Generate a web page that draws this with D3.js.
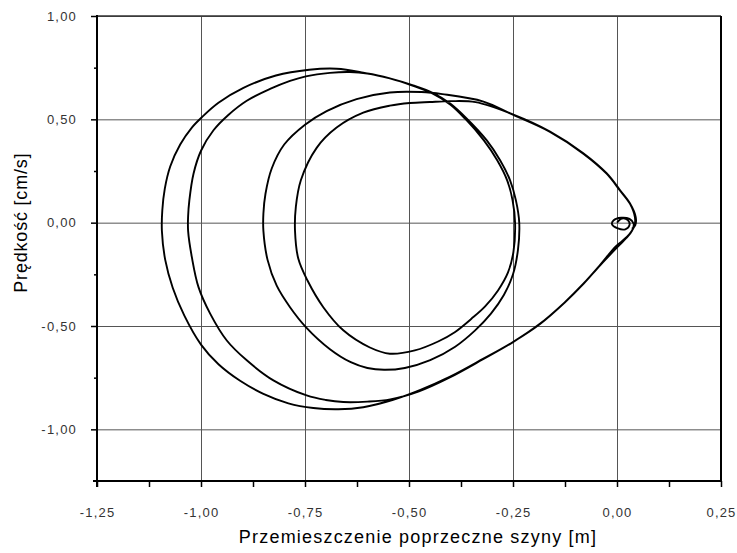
<!DOCTYPE html>
<html>
<head>
<meta charset="utf-8">
<script src="https://cdn.jsdelivr.net/npm/d3@7"></script>
<style>
  body { margin: 0; background: #fff; }
  svg { display: block; font-family: Arial, "Liberation Sans", sans-serif; }
</style>
</head>
<body>
<div id="chart"></div>
<script>
// axis ticks
var xTicks = [-1.25, -1.0, -0.75, -0.5, -0.25, 0.0, 0.25]
var xMinorTicks = [-1.125, -0.875, -0.625, -0.375, -0.125, 0.125]
var yTicks = [-1.0, -0.5, 0.0, 0.5, 1.0]
var yMinorTicks = [-0.75, -0.25, 0.25, 0.75]

// trajectory pieces [przemieszczenie, predkosc], in order
var startLoop = [
  [0.000, 0.000], [0.012, 0.020], [0.026, 0.012], [0.030, -0.012], [0.020, -0.032],
  [0.002, -0.028], [-0.012, -0.008], [-0.008, 0.012], [0.010, 0.024], [0.030, 0.018],
  [0.040, -0.005], [0.036, -0.040], [0.022, -0.075], [0.005, -0.110]
]
var outerSwing1 = [
  [-0.040, -0.205], [-0.080, -0.295], [-0.125, -0.385], [-0.185, -0.490], [-0.249, -0.576],
  [-0.321, -0.658], [-0.401, -0.745], [-0.474, -0.810], [-0.540, -0.858], [-0.610, -0.893],
  [-0.670, -0.903], [-0.730, -0.897], [-0.790, -0.874], [-0.850, -0.828], [-0.906, -0.765],
  [-0.958, -0.685], [-1.000, -0.590], [-1.040, -0.450], [-1.068, -0.315], [-1.086, -0.180],
  [-1.094, -0.040], [-1.093, 0.060], [-1.087, 0.165], [-1.074, 0.272], [-1.050, 0.378],
  [-1.022, 0.460], [-0.998, 0.510], [-0.958, 0.580], [-0.898, 0.652], [-0.820, 0.712],
  [-0.740, 0.740], [-0.674, 0.745], [-0.610, 0.726], [-0.546, 0.698], [-0.490, 0.664],
  [-0.442, 0.627]
]
var innerSwing1 = [
  [-0.401, 0.576], [-0.361, 0.503], [-0.313, 0.398], [-0.281, 0.302], [-0.257, 0.205],
  [-0.243, 0.108], [-0.235, 0.000], [-0.238, -0.130], [-0.250, -0.250], [-0.272, -0.350],
  [-0.303, -0.440], [-0.341, -0.521], [-0.389, -0.600], [-0.449, -0.665], [-0.510, -0.703],
  [-0.560, -0.712], [-0.600, -0.703], [-0.640, -0.675], [-0.690, -0.612], [-0.748, -0.505],
  [-0.786, -0.409], [-0.818, -0.305], [-0.840, -0.180], [-0.850, -0.040], [-0.850, 0.044],
  [-0.845, 0.140], [-0.830, 0.262], [-0.800, 0.378], [-0.750, 0.474], [-0.698, 0.540],
  [-0.626, 0.598], [-0.546, 0.630], [-0.470, 0.632], [-0.420, 0.622], [-0.321, 0.586],
  [-0.249, 0.521], [-0.161, 0.439], [-0.081, 0.334], [-0.025, 0.237], [0.007, 0.156],
  [0.031, 0.092], [0.043, 0.027], [0.042, -0.015], [0.030, -0.055], [0.012, -0.090],
  [-0.003, -0.115]
]
var outerSwing2 = [
  [-0.042, -0.208], [-0.082, -0.298], [-0.127, -0.388], [-0.187, -0.492], [-0.251, -0.579],
  [-0.323, -0.662], [-0.403, -0.750], [-0.476, -0.816], [-0.545, -0.855], [-0.600, -0.866],
  [-0.658, -0.868], [-0.700, -0.858], [-0.746, -0.836], [-0.826, -0.763], [-0.890, -0.666],
  [-0.938, -0.570], [-0.978, -0.440], [-1.006, -0.312], [-1.022, -0.167], [-1.031, -0.040],
  [-1.031, 0.030], [-1.028, 0.108], [-1.018, 0.237], [-1.000, 0.348], [-0.970, 0.447],
  [-0.935, 0.520], [-0.890, 0.590], [-0.834, 0.647], [-0.786, 0.686], [-0.748, 0.708],
  [-0.690, 0.725], [-0.642, 0.729], [-0.600, 0.722], [-0.546, 0.698], [-0.490, 0.662],
  [-0.445, 0.627]
]
var innerSwing2 = [
  [-0.401, 0.572], [-0.365, 0.503], [-0.320, 0.398], [-0.288, 0.302], [-0.264, 0.205],
  [-0.251, 0.108], [-0.245, 0.000], [-0.249, -0.142], [-0.262, -0.241], [-0.286, -0.328],
  [-0.317, -0.405], [-0.350, -0.465], [-0.390, -0.530], [-0.430, -0.575], [-0.486, -0.618],
  [-0.546, -0.634], [-0.594, -0.604], [-0.658, -0.521], [-0.706, -0.409], [-0.744, -0.280],
  [-0.766, -0.175], [-0.774, -0.040], [-0.772, 0.076], [-0.760, 0.205], [-0.722, 0.362],
  [-0.674, 0.460], [-0.610, 0.532], [-0.546, 0.566], [-0.498, 0.579], [-0.450, 0.584],
  [-0.400, 0.588], [-0.340, 0.583], [-0.249, 0.523], [-0.161, 0.441], [-0.081, 0.336],
  [-0.025, 0.239], [0.007, 0.158], [0.031, 0.094], [0.045, 0.027], [0.044, -0.012],
  [0.036, -0.030]
]

var trajectory = [].concat(startLoop, outerSwing1, innerSwing1, outerSwing2, innerSwing2)

var W = 737, H = 553
var margin = {top: 16, right: 16, bottom: 72, left: 97}

var svg = d3.select('#chart').append('svg')
  .attr('width', W)
  .attr('height', H)

var x = d3.scaleLinear()
  .domain([-1.25, 0.25])
  .range([margin.left, W - margin.right])

var y = d3.scaleLinear()
  .domain([-1.25, 1.0])
  .range([H - margin.bottom, margin.top])

var loc = d3.formatLocale({decimal: ',', thousands: ' ', grouping: [3], currency: ['', ''], minus: '-'})
var fmt = loc.format('.2f')

// grid
svg.append('g')
  .attr('transform', `translate(0,${y(-1.25)})`)
  .call(d3.axisBottom(x).tickValues(xTicks.slice(1, -1)).tickSize(-(y(-1.25) - y(1.0))).tickFormat(''))
  .call(g => g.select('.domain').remove())
  .call(g => g.selectAll('line').attr('stroke', '#555').attr('stroke-width', 1))

svg.append('g')
  .attr('transform', `translate(${x(-1.25)},0)`)
  .call(d3.axisLeft(y).tickValues(yTicks).tickSize(-(x(0.25) - x(-1.25))).tickFormat(''))
  .call(g => g.select('.domain').remove())
  .call(g => g.selectAll('line').attr('stroke', '#555').attr('stroke-width', 1))

// top and right frame
svg.append('line')
  .attr('x1', x(-1.25)).attr('x2', x(0.25))
  .attr('y1', y(1.0)).attr('y2', y(1.0))
  .attr('stroke', '#333').attr('stroke-width', 1.5)
svg.append('line')
  .attr('x1', x(0.25)).attr('x2', x(0.25))
  .attr('y1', y(1.0)).attr('y2', y(-1.25))
  .attr('stroke', '#000').attr('stroke-width', 2)

// curve
var lineFunction = d3.line()
  .x(d => x(d[0]))
  .y(d => y(d[1]))
  .curve(d3.curveCatmullRom.alpha(0.5))

svg.append('path')
  .attr('d', lineFunction(trajectory))
  .attr('fill', 'none')
  .attr('stroke', '#000')
  .attr('stroke-width', 1.9)
  .attr('stroke-linejoin', 'round')

// axes
var xAxis = svg.append('g')
  .attr('transform', `translate(0,${y(-1.25)})`)
  .call(d3.axisBottom(x).tickValues(xTicks.concat(xMinorTicks)).tickSize(6).tickPadding(21)
    .tickFormat(d => xTicks.indexOf(d) >= 0 ? fmt(d) : ''))
xAxis.select('.domain').attr('stroke-width', 2).attr('d', `M${x(-1.25) - 4},0H${x(0.25) + 1}`)

var yAxis = svg.append('g')
  .attr('transform', `translate(${x(-1.25)},0)`)
  .call(d3.axisLeft(y).tickValues(yTicks).tickSize(6).tickPadding(14).tickFormat(fmt))
yAxis.select('.domain').attr('stroke-width', 2).attr('d', `M0,${y(1.0) - 1}V${y(-1.25) + 6}`)

svg.append('g')
  .attr('transform', `translate(${x(-1.25)},0)`)
  .call(d3.axisLeft(y).tickValues(yMinorTicks).tickSize(3).tickFormat(''))
  .call(g => g.select('.domain').remove())

svg.selectAll('.tick line').filter(function() { return this.getAttribute('stroke') === 'currentColor' })
  .attr('stroke-width', 1.5)

svg.selectAll('.tick text')
  .attr('font-size', 13)
  .attr('font-family', 'Arial, "Liberation Sans", sans-serif')
  .attr('fill', '#333')
  .attr('letter-spacing', 1.2)

// titles
svg.append('text')
  .attr('x', (x(-1.25) + x(0.25)) / 2 + 9)
  .attr('y', 543)
  .attr('text-anchor', 'middle')
  .attr('font-size', 18)
  .attr('letter-spacing', 1.2)
  .text('Przemieszczenie poprzeczne szyny [m]')

svg.append('text')
  .attr('transform', `translate(27,${y(0)}) rotate(-90)`)
  .attr('text-anchor', 'middle')
  .attr('font-size', 18)
  .attr('letter-spacing', 0.8)
  .text('Prędkość [cm/s]')
</script>
</body>
</html>
